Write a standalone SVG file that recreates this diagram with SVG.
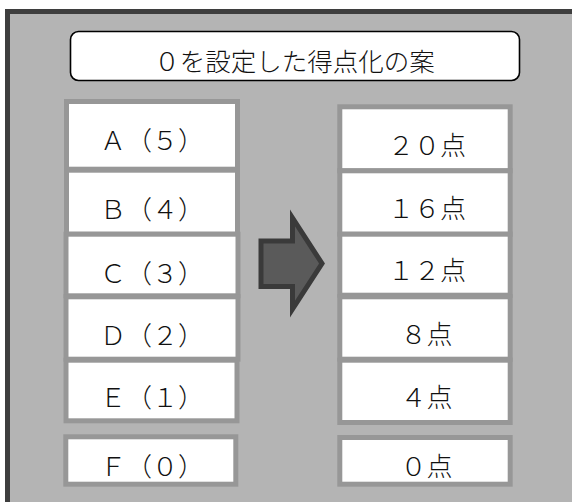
<svg xmlns="http://www.w3.org/2000/svg" width="572" height="502" viewBox="0 0 572 502">
  <defs>
    <style>
      .frame { fill: #b4b4b4; stroke: #3e3e3e; stroke-width: 5; }
      .title { fill: #ffffff; stroke: #000000; stroke-width: 1.6; }
      .box { fill: #ffffff; stroke: #979797; stroke-width: 5; }
      .lbl { font-family: "Noto Sans CJK JP", "Liberation Serif", sans-serif; font-size: 26px; font-weight: 300; fill: #111111; text-anchor: middle; }
      .ttl { font-size: 25.5px; }
      .arrow { fill: #5a5a5a; stroke: #3a3a3a; stroke-width: 5; stroke-linejoin: miter; stroke-miterlimit: 6; }
    </style>
  </defs>
  <rect x="0" y="0" width="572" height="502" fill="#ffffff"/>
  <rect class="frame" x="7.5" y="11.5" width="600" height="520"/>

  <g id="title">
    <rect class="title" x="70.5" y="31.5" width="449" height="49" rx="8" ry="8"/>
    <text class="lbl ttl" x="294.5" y="70.5">０を設定した得点化の案</text>
  </g>

  <g id="A">
    <rect class="box" x="66.5" y="101.5" width="171" height="67.7"/>
    <text class="lbl" x="152" y="149.5">Ａ（５）</text>
  </g>
  <g id="B">
    <rect class="box" x="66.5" y="170.2" width="171" height="64"/>
    <text class="lbl" x="152" y="218.5">Ｂ（４）</text>
  </g>
  <g id="C">
    <rect class="box" x="66" y="234.2" width="172" height="61.6"/>
    <text class="lbl" x="152" y="282.5">Ｃ（３）</text>
  </g>
  <g id="D">
    <rect class="box" x="66" y="296.8" width="172" height="62.4"/>
    <text class="lbl" x="152" y="345">Ｄ（２）</text>
  </g>
  <g id="E">
    <rect class="box" x="66" y="360.2" width="171" height="60.6"/>
    <text class="lbl" x="152" y="406.5">Ｅ（１）</text>
  </g>
  <g id="F">
    <rect class="box" x="65.8" y="436.8" width="170" height="47.4"/>
    <text class="lbl" x="152" y="475.5">Ｆ（０）</text>
  </g>

  <g id="P20">
    <rect class="box" x="339.8" y="106.8" width="170.4" height="64"/>
    <text class="lbl" x="427" y="155">２０点</text>
  </g>
  <g id="P16">
    <rect class="box" x="339.8" y="170.8" width="170.4" height="63.4"/>
    <text class="lbl" x="427" y="218.3">１６点</text>
  </g>
  <g id="P12">
    <rect class="box" x="339.8" y="234.2" width="170.4" height="61"/>
    <text class="lbl" x="427" y="280">１２点</text>
  </g>
  <g id="P8">
    <rect class="box" x="339.8" y="296.8" width="170.4" height="62.4"/>
    <text class="lbl" x="426.5" y="344">８点</text>
  </g>
  <g id="P4">
    <rect class="box" x="339.8" y="360.2" width="170.4" height="62.3"/>
    <text class="lbl" x="426.5" y="406.5">４点</text>
  </g>
  <g id="P0">
    <rect class="box" x="339.8" y="437.5" width="170.4" height="46.7"/>
    <text class="lbl" x="426.5" y="475.5">０点</text>
  </g>

  <g id="connectors">
    <path class="arrow" d="M261,241 H292.5 V218 L322,263.5 L292.5,309 V286.5 H261 Z"/>
  </g>
</svg>
